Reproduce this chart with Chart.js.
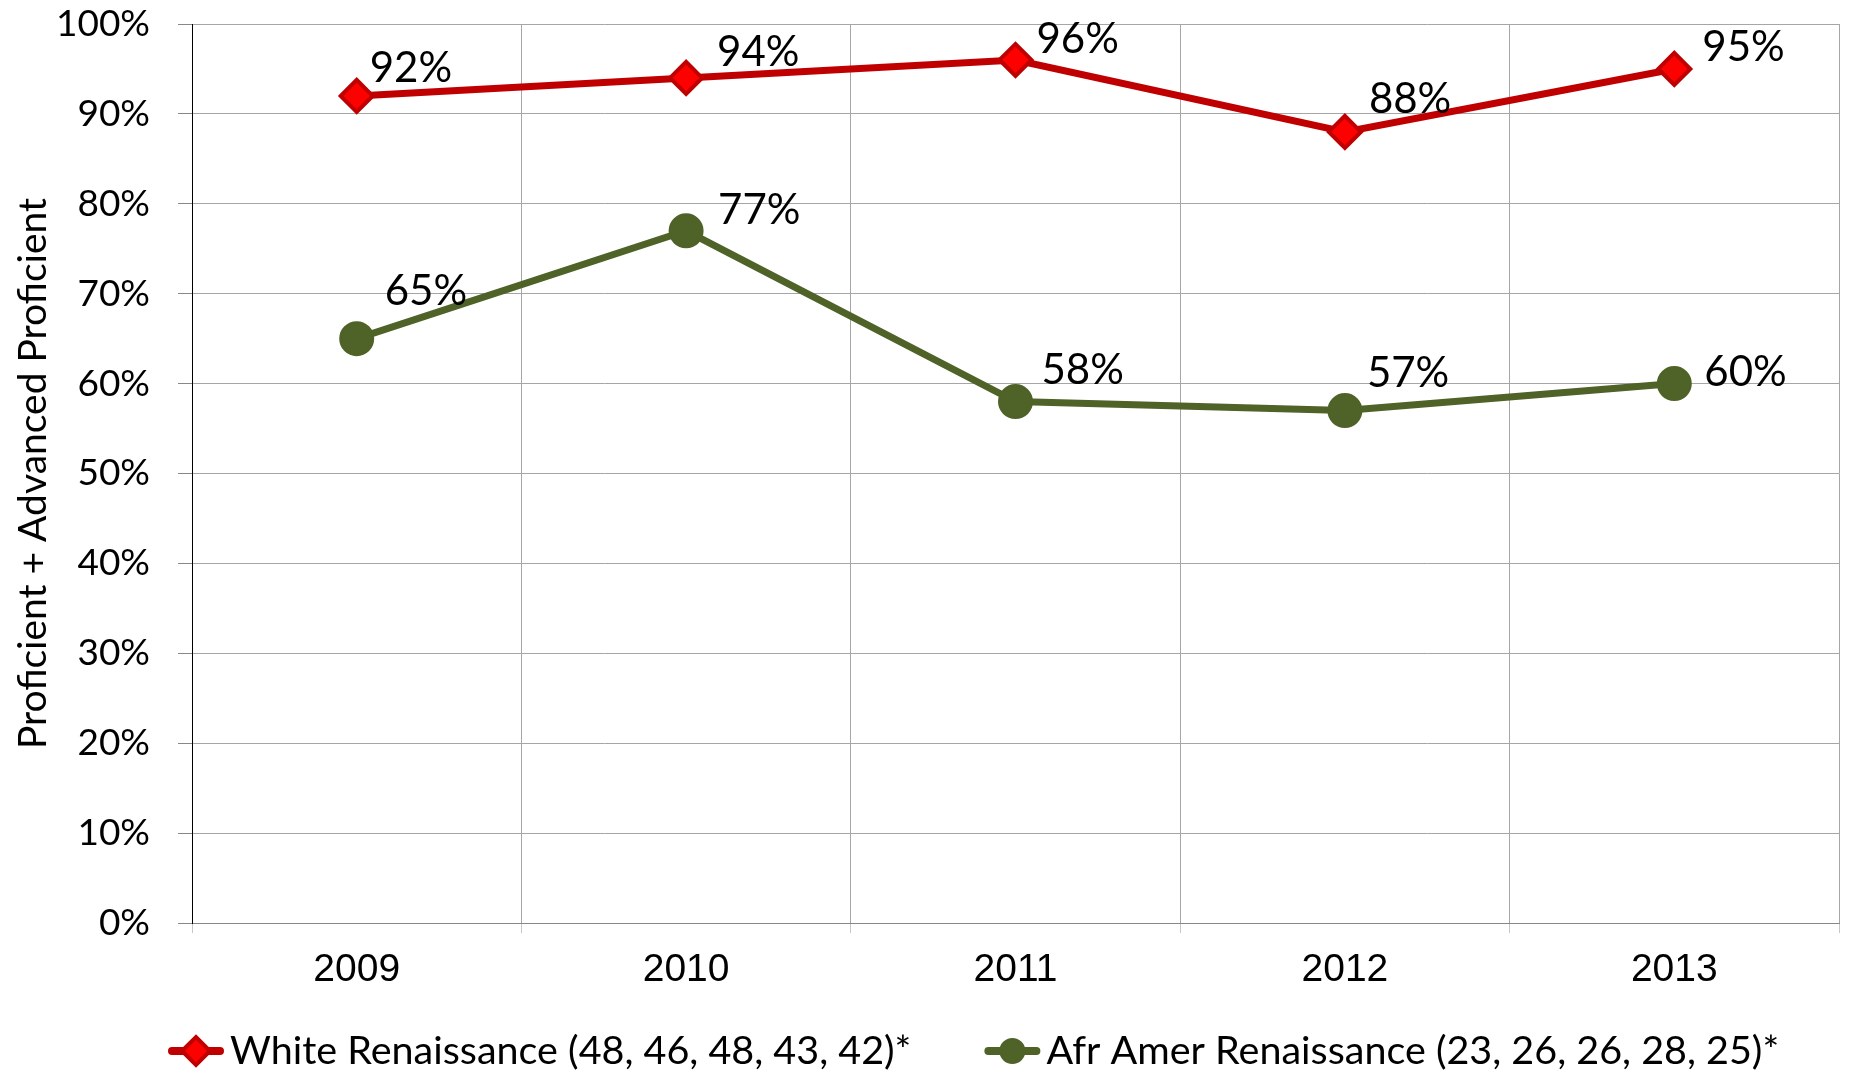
<!DOCTYPE html>
<html>
<head>
<meta charset="utf-8">
<script src="https://cdn.jsdelivr.net/npm/chart.js@4.4.0/dist/chart.umd.min.js"></script>
<style>
  html, body { margin: 0; padding: 0; background: #fff; }
</style>
</head>
<body>
<canvas id="proficiency-chart" width="1851" height="1075"></canvas>
<script>
const years = ['2009', '2010', '2011', '2012', '2013'];
const whiteValues = [92, 94, 96, 88, 95];
const afrAmerValues = [65, 77, 58, 57, 60];
const seriesNames = [
	'White Renaissance (48, 46, 48, 43, 42)*',
	'Afr Amer Renaissance (23, 26, 26, 28, 25)*',
];
const yTicks = [0, 10, 20, 30, 40, 50, 60, 70, 80, 90, 100];

// nudges for the value labels (px), excel put them a bit differently each time
const whiteLabelShift = [[13, -27], [31, -25], [21, -21], [24, -32], [28, -21]];
const afrAmerLabelShift = [[28, -47], [32, -20], [26, -31], [22, -37], [30, -11]];

const RED = '#C00000';
const GREEN = '#4F6228';

const pointLabels = {
	id: 'pointLabels',
	afterDatasetsDraw(chart) {
		const { ctx } = chart;
		ctx.save();
		ctx.font = '42px Lato';
		ctx.fillStyle = '#000';
		ctx.textBaseline = 'middle';
		chart.data.datasets.forEach((ds, i) => {
			chart.getDatasetMeta(i).data.forEach((pt, j) => {
				const [dx, dy] = ds.labelShift[j];
				ctx.fillText(ds.data[j] + '%', pt.x + dx, pt.y + dy);
			});
		});
		ctx.restore();
	},
};

const drawLegendIcon = (ctx, x, y, ds) => {
	ctx.save();
	ctx.strokeStyle = ds.borderColor;
	ctx.lineWidth = 8;
	ctx.lineCap = 'round';
	ctx.beginPath();
	ctx.moveTo(x + 4, y);
	ctx.lineTo(x + 52, y);
	ctx.stroke();
	ctx.fillStyle = ds.pointBackgroundColor;
	ctx.strokeStyle = ds.pointBorderColor;
	ctx.lineWidth = ds.pointBorderWidth;
	ctx.beginPath();
	if (ds.pointStyle === 'rectRot') {
		const r = 14;
		ctx.moveTo(x + 28 - r, y);
		ctx.lineTo(x + 28, y - r);
		ctx.lineTo(x + 28 + r, y);
		ctx.lineTo(x + 28, y + r);
		ctx.closePath();
	} else {
		ctx.arc(x + 28, y, 12, 0, Math.PI * 2);
	}
	ctx.fill();
	ctx.stroke();
	ctx.restore();
};

const bottomLegend = {
	id: 'bottomLegend',
	afterDraw(chart) {
		const { ctx, chartArea } = chart;
		const y = chart.height - 24;
		let x = chartArea.left - 24;
		ctx.save();
		ctx.font = '39.5px Lato';
		ctx.fillStyle = '#000';
		ctx.textBaseline = 'middle';
		chart.data.datasets.forEach((ds) => {
			drawLegendIcon(ctx, x, y, ds);
			x += 62;
			ctx.fillText(ds.label, x, y);
			x += ctx.measureText(ds.label).width + 73;
		});
		ctx.restore();
	},
};

new Chart(document.getElementById('proficiency-chart'), {
	type: 'line',
	data: {
		labels: years,
		datasets: [
			{
				label: seriesNames[0],
				data: whiteValues,
				labelShift: whiteLabelShift,
				borderColor: RED,
				borderWidth: 7,
				pointStyle: 'rectRot',
				pointRadius: 16,
				pointBackgroundColor: '#FF0000',
				pointBorderColor: RED,
				pointBorderWidth: 4,
				tension: 0,
			},
			{
				label: seriesNames[1],
				data: afrAmerValues,
				labelShift: afrAmerLabelShift,
				borderColor: GREEN,
				borderWidth: 7,
				pointStyle: 'circle',
				pointRadius: 16.5,
				pointBackgroundColor: GREEN,
				pointBorderColor: GREEN,
				pointBorderWidth: 2,
				tension: 0,
			},
		],
	},
	options: {
		responsive: false,
		animation: false,
		devicePixelRatio: 1,
		layout: {
			autoPadding: false,
			padding: { top: 24, right: 12, bottom: 90, left: 0 },
		},
		plugins: {
			legend: { display: false },
			tooltip: { enabled: false },
		},
		scales: {
			x: {
				offset: true,
				grid: {
					offset: true,
					color: (c) => (c.index === 0 ? 'rgba(0,0,0,0)' : '#a6a6a6'),
					tickLength: 10,
					tickColor: '#c8c8c8',
				},
				border: { color: '#888' },
				ticks: {
					font: { family: 'Liberation Sans', size: 39 },
					color: '#000',
					padding: 14,
				},
				afterFit(scale) {
					scale.height = 62;
				},
			},
			y: {
				min: 0,
				max: 100,
				afterBuildTicks(scale) {
					scale.ticks = yTicks.map((v) => ({ value: v }));
				},
				ticks: {
					callback: (v) => v + '%',
					font: { family: 'Lato', size: 37 },
					color: '#000',
					padding: 28,
				},
				grid: { color: '#a6a6a6', tickLength: 14, tickColor: '#888' },
				border: { color: '#000' },
				title: {
					display: true,
					text: 'Proficient + Advanced Proficient',
					font: { family: 'Lato', size: 39 },
					color: '#000',
					padding: { top: 10 },
				},
				afterFit(scale) {
					scale.width = 192;
					// tick padding otherwise pushes the plot top down
					scale.paddingTop = 0;
					scale.paddingBottom = 0;
				},
			},
		},
	},
	plugins: [pointLabels, bottomLegend],
});
</script>
</body>
</html>
